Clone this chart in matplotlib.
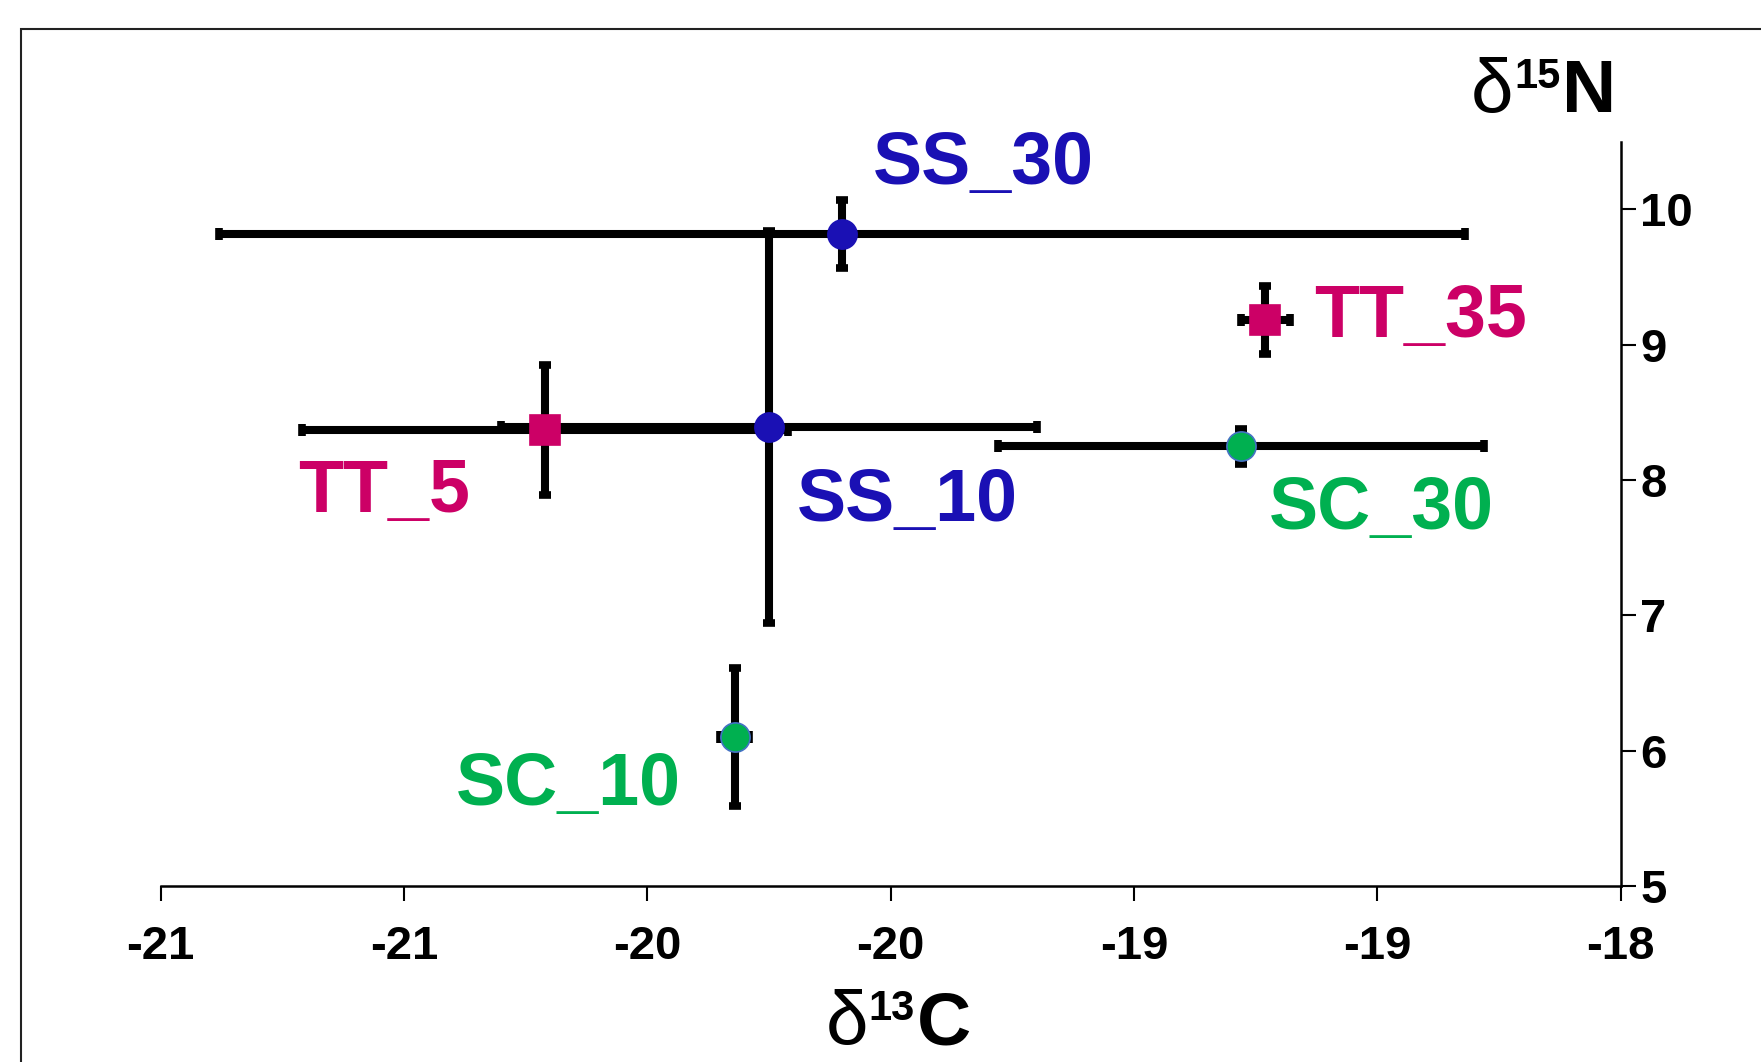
import matplotlib
matplotlib.use("Agg")
import matplotlib.pyplot as plt
from matplotlib.patches import Rectangle

plt.rcParams['font.family'] = ['Liberation Sans', 'DejaVu Sans']

# sample groups and their values (mean +- sd)
ss_labels = ["SS_10", "SS_30"]
ss_d13c = [-19.75, -19.60]
ss_d13c_sd = [0.55, 1.28]
ss_d15n = [8.39, 9.82]
ss_d15n_sd = [1.45, 0.25]

tt_labels = ["TT_5", "TT_35"]
tt_d13c = [-20.21, -18.73]
tt_d13c_sd = [0.50, 0.05]
tt_d15n = [8.37, 9.18]
tt_d15n_sd = [0.48, 0.25]

sc_labels = ["SC_10", "SC_30"]
sc_d13c = [-19.82, -18.78]
sc_d13c_sd = [0.03, 0.50]
sc_d15n = [6.10, 8.25]
sc_d15n_sd = [0.51, 0.13]

x_ticks = [-21, -20.5, -20, -19.5, -19, -18.5, -18]
x_tick_labels = ["-21", "-21", "-20", "-20", "-19", "-19", "-18"]
y_ticks = [5, 6, 7, 8, 9, 10]

# where each point label sits (data coords, left / baseline)
label_xy = {
    "SS_10": (-19.692, 7.695),
    "SS_30": (-19.537, 10.19),
    "TT_5": (-20.718, 7.76),
    "TT_35": (-18.630, 9.055),
    "SC_10": (-20.393, 5.596),
    "SC_30": (-18.722, 7.637),
}

BLUE = "#1a10b4"
MAGENTA = "#cc0066"
GREEN = "#00b050"

fig = plt.figure(figsize=(17.61, 10.62), dpi=100)
ax = fig.add_axes([0.0912, 0.1657, 0.8291, 0.7009])

groups = [
    (ss_labels, ss_d13c, ss_d13c_sd, ss_d15n, ss_d15n_sd, BLUE, "o", 21, BLUE),
    (tt_labels, tt_d13c, tt_d13c_sd, tt_d15n, tt_d15n_sd, MAGENTA, "s", 21.5, MAGENTA),
    (sc_labels, sc_d13c, sc_d13c_sd, sc_d15n, sc_d15n_sd, GREEN, "o", 21, "#4472c4"),
]

for labels, x, xe, y, ye, color, marker, ms, edge in groups:
    ax.errorbar(x, y, xerr=xe, yerr=ye, fmt="none", ecolor="black",
                elinewidth=5.8, capsize=4.5, capthick=5.5, zorder=2)
    ax.plot(x, y, linestyle="none", marker=marker, markersize=ms,
            markerfacecolor=color, markeredgecolor=edge, markeredgewidth=1.2,
            zorder=3)
    for lab in labels:
        lx, ly = label_xy[lab]
        ax.text(lx, ly, lab, color=color, fontsize=53, fontweight="bold",
                ha="left", va="baseline")

ax.set_xlim(-21, -18)
ax.set_ylim(5, 10.5)
ax.set_xticks(x_ticks)
ax.set_xticklabels(x_tick_labels)
ax.set_yticks(y_ticks)
ax.yaxis.tick_right()

ax.spines["top"].set_visible(False)
ax.spines["left"].set_visible(False)
ax.spines["right"].set_linewidth(1.8)
ax.spines["bottom"].set_linewidth(1.8)
ax.tick_params(axis="x", direction="out", length=11, width=1.5, pad=17,
               labelsize=34)
ax.tick_params(axis="y", direction="out", length=11, width=1.5, pad=3,
               labelsize=34)
for t in ax.get_xticklabels() + ax.get_yticklabels():
    t.set_fontweight("bold")


def delta_label(x0, base, mass, elem):
    # delta sign, raised mass number, bold element letter
    d = fig.text(x0, base, "δ", fontsize=55, ha="left", va="baseline")
    m = ax.annotate(mass, xy=(1, base + 24 / 1062),
                    xycoords=(d, "figure fraction"), xytext=(0.5, 0),
                    textcoords="offset points", fontsize=30,
                    fontweight="bold", ha="left", va="baseline",
                    annotation_clip=False)
    ax.annotate(elem, xy=(1, base), xycoords=(m, "figure fraction"),
                xytext=(1.5, 0), textcoords="offset points", fontsize=54,
                fontweight="bold", ha="left", va="baseline",
                annotation_clip=False)


delta_label(0.8353, 0.8945, "15", "N")
delta_label(0.4688, 0.0165, "13", "C")

# outer frame, cut off by the right and bottom edges
fig.patches.append(Rectangle((21 / 1761, -0.1), 1.2, (1062 - 29) / 1062 + 0.1,
                             transform=fig.transFigure, fill=False,
                             edgecolor="#222222", linewidth=1.5))

fig.savefig("out.png", dpi=100)
